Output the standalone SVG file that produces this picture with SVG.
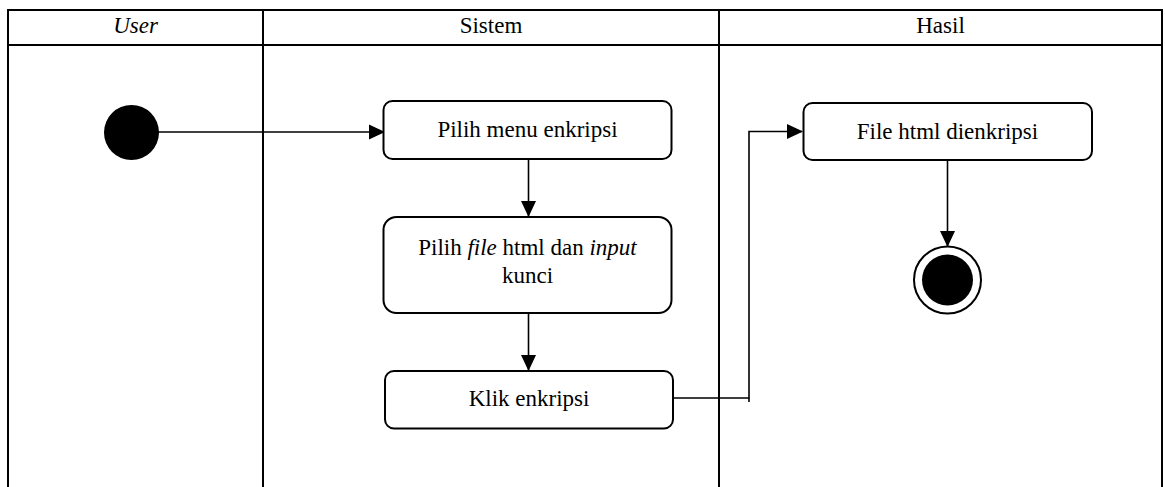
<svg xmlns="http://www.w3.org/2000/svg" width="1165" height="487" viewBox="0 0 1165 487">
  <style>
    .lane { stroke: #000; stroke-width: 2; fill: none; }
    .act { fill: #fff; stroke: #000; stroke-width: 2; }
    .flow { stroke: #000; stroke-width: 1.6; fill: none; }
    text { font-family: "Liberation Serif", "Times New Roman", serif; font-size: 23px; fill: #000; text-anchor: middle; }
    .it { font-style: italic; }
  </style>
  <defs>
    <marker id="arrow" viewBox="0 0 16 16" refX="15" refY="8" markerWidth="16" markerHeight="16" markerUnits="userSpaceOnUse" orient="auto">
      <path d="M0,0.5 L16,8 L0,15.5 Z" fill="#000"/>
    </marker>
  </defs>

  <!-- swimlane table -->
  <g id="lanes">
    <path class="lane" d="M8,487 V10 H1162 V487"/>
    <line class="lane" x1="8" y1="45" x2="1162" y2="45"/>
    <line class="lane" x1="263" y1="10" x2="263" y2="487"/>
    <line class="lane" x1="719" y1="10" x2="719" y2="487"/>
    <text class="it" x="135.5" y="33">User</text>
    <text x="491" y="33">Sistem</text>
    <text x="940.5" y="33">Hasil</text>
  </g>

  <!-- connectors -->
  <g id="connectors">
    <line class="flow" x1="158" y1="132" x2="384" y2="132" marker-end="url(#arrow)"/>
    <line class="flow" x1="528.5" y1="159" x2="528.5" y2="216" marker-end="url(#arrow)"/>
    <line class="flow" x1="528.5" y1="313" x2="528.5" y2="370" marker-end="url(#arrow)"/>
    <polyline class="flow" points="673,398 749,398 749,131.5 802,131.5" marker-end="url(#arrow)"/>
    <line class="flow" x1="749" y1="398" x2="749" y2="402"/>
    <line class="flow" x1="947.5" y1="160" x2="947.5" y2="246" marker-end="url(#arrow)"/>
  </g>

  <!-- initial node -->
  <g id="start">
    <circle cx="131.5" cy="132.5" r="27.5" fill="#000"/>
  </g>

  <g id="pilih-menu">
    <rect class="act" x="383.5" y="101" width="288" height="58" rx="9"/>
    <text x="527.5" y="137">Pilih menu enkripsi</text>
  </g>

  <g id="pilih-file">
    <rect class="act" x="383.5" y="217" width="288" height="96" rx="13"/>
    <text x="527.5" y="255">Pilih <tspan class="it">file</tspan> html dan <tspan class="it">input</tspan></text>
    <text x="527.5" y="282.5">kunci</text>
  </g>

  <g id="klik-enkripsi">
    <rect class="act" x="385" y="371" width="288" height="57.5" rx="9"/>
    <text x="529" y="406">Klik enkripsi</text>
  </g>

  <g id="file-dienkripsi">
    <rect class="act" x="803.5" y="103" width="288.5" height="57" rx="9"/>
    <text x="947.5" y="138.5">File html dienkripsi</text>
  </g>

  <!-- final node -->
  <g id="end">
    <circle cx="947.5" cy="280" r="33.5" fill="#fff" stroke="#000" stroke-width="2"/>
    <circle cx="947.5" cy="280" r="25.5" fill="#000"/>
  </g>
</svg>
